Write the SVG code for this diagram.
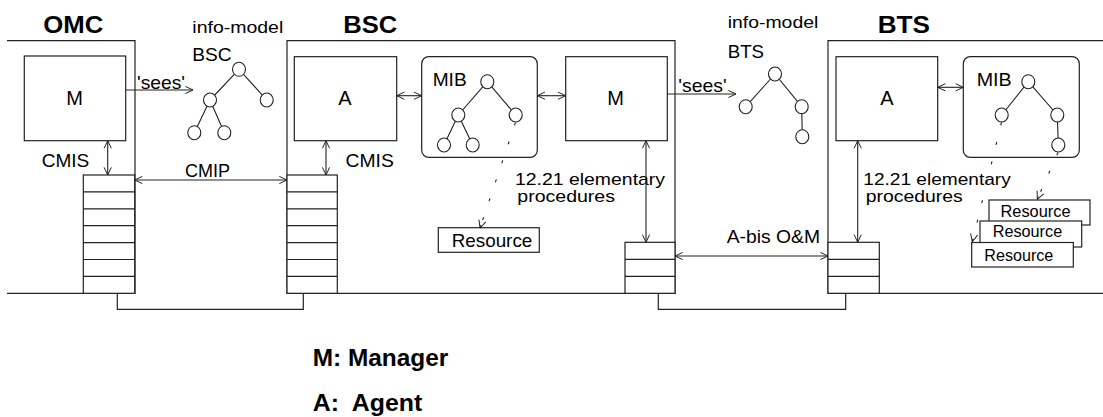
<svg xmlns="http://www.w3.org/2000/svg" width="1103" height="417" viewBox="0 0 1103 417">
<style>
.ln{fill:none;stroke:#222;stroke-width:1.2}
.bx{fill:#fff;stroke:#222;stroke-width:1.2}
.nd{fill:#fff;stroke:#222;stroke-width:1.1}
.ed{stroke:#222;stroke-width:1.1}
.ar{fill:none;stroke:#222;stroke-width:1.1}
.da{fill:none;stroke:#222;stroke-width:1.1;stroke-dasharray:3 17}
text{font-family:"Liberation Sans",Arial,sans-serif;fill:#000}
.t{font-size:18.5px}
.m{font-size:17px}
.big{font-size:20px}
.s{font-size:16px}
.h{font-size:23.5px;font-weight:bold}
.lg{font-size:23px;font-weight:bold;white-space:pre}
</style>
<defs>
<marker id="ah" viewBox="0 0 10 10" refX="9.5" refY="5" markerWidth="9" markerHeight="9" markerUnits="userSpaceOnUse" orient="auto-start-reverse">
<path d="M1,1 L9.5,5 L1,9" fill="none" stroke="#222" stroke-width="1.1"/>
</marker>
</defs>

<g id="omc">
<path class="ln" d="M7,40.7 H135 V293.3 H7"/>
<text class="h" x="43.3" y="33.3" textLength="60" lengthAdjust="spacingAndGlyphs">OMC</text>
</g>
<g id="bsc">
<path class="ln" d="M287,40.7 H675 V293.3 H287 Z"/>
<text class="h" x="343.3" y="33.3" textLength="54" lengthAdjust="spacingAndGlyphs">BSC</text>
</g>
<g id="bts">
<path class="ln" d="M1103,40.7 H828 V293.3 H1103"/>
<text class="h" x="877.7" y="33.3" textLength="52.3" lengthAdjust="spacingAndGlyphs">BTS</text>
</g>

<g id="omc-manager">
<rect class="bx" x="24.3" y="56" width="101.4" height="84.7"/>
<text class="big" x="74.5" y="105" text-anchor="middle">M</text>
</g>
<g id="omc-stack">
<rect class="bx" x="83.3" y="175" width="51.4" height="118.3"/>
<path class="ln" d="M83.3,191.9 H134.7 M83.3,208.8 H134.7 M83.3,225.7 H134.7 M83.3,242.6 H134.7 M83.3,259.5 H134.7 M83.3,276.4 H134.7"/>
</g>

<g id="info-model-bsc">
<text class="m" x="192.3" y="32.5" textLength="91" lengthAdjust="spacingAndGlyphs">info-model</text>
<text class="t" x="192.3" y="60.5" textLength="39.4" lengthAdjust="spacingAndGlyphs">BSC</text>
<path class="ed" d="M239,69.3 L210,100 M239,69.3 L266.7,100 M210,100 L194.3,132.7 M210,100 L224.3,132.7"/>
<ellipse class="nd" cx="239" cy="69.3" rx="6.5" ry="7"/>
<ellipse class="nd" cx="210" cy="100" rx="6.5" ry="7"/>
<ellipse class="nd" cx="266.7" cy="100" rx="6.5" ry="7"/>
<ellipse class="nd" cx="194.3" cy="132.7" rx="6.5" ry="7"/>
<ellipse class="nd" cx="224.3" cy="132.7" rx="6.5" ry="7"/>
</g>

<g id="bsc-agent">
<rect class="bx" x="294.3" y="56.7" width="102.4" height="84"/>
<text class="big" x="345" y="105" text-anchor="middle">A</text>
</g>
<g id="bsc-mib">
<rect class="bx" x="421.7" y="56.7" width="115.6" height="100.6" rx="7"/>
<text class="t" x="432.7" y="86" textLength="34" lengthAdjust="spacingAndGlyphs">MIB</text>
<path class="ed" d="M487.3,81.7 L458.3,115 M487.3,81.7 L515.7,115 M458.3,115 L444,145 M458.3,115 L472.7,145"/>
<ellipse class="nd" cx="487.3" cy="81.7" rx="6.5" ry="7"/>
<ellipse class="nd" cx="458.3" cy="115" rx="6.5" ry="7"/>
<ellipse class="nd" cx="515.7" cy="115" rx="6.5" ry="7"/>
<ellipse class="nd" cx="444" cy="145" rx="6.5" ry="7"/>
<ellipse class="nd" cx="472.7" cy="145" rx="6.5" ry="7"/>
</g>
<g id="bsc-manager">
<rect class="bx" x="565.7" y="56.7" width="101.6" height="84"/>
<text class="big" x="615.5" y="105" text-anchor="middle">M</text>
</g>
<g id="bsc-stack-left">
<rect class="bx" x="287" y="175" width="50.3" height="118.3"/>
<path class="ln" d="M287,191.9 H337.3 M287,208.8 H337.3 M287,225.7 H337.3 M287,242.6 H337.3 M287,259.5 H337.3 M287,276.4 H337.3"/>
</g>
<g id="bsc-stack-right">
<rect class="bx" x="625" y="242.3" width="50" height="51"/>
<path class="ln" d="M625,259.3 H675 M625,276.3 H675"/>
</g>
<g id="bsc-resource">
<rect class="bx" x="438.3" y="227.7" width="101" height="24.6"/>
<text class="t" x="451.7" y="247.3" textLength="80.6" lengthAdjust="spacingAndGlyphs">Resource</text>
</g>
<g id="bsc-procedures">
<text class="m" x="515" y="184.5" textLength="150" lengthAdjust="spacingAndGlyphs">12.21 elementary</text>
<text class="m" x="517.3" y="202" textLength="97.7" lengthAdjust="spacingAndGlyphs">procedures</text>
</g>

<g id="info-model-bts">
<text class="m" x="727.7" y="27.7" textLength="90.6" lengthAdjust="spacingAndGlyphs">info-model</text>
<text class="t" x="727.7" y="58.3" textLength="36.3" lengthAdjust="spacingAndGlyphs">BTS</text>
<path class="ed" d="M775,74 L745.7,106.7 M775,74 L801.7,106.7 M801.7,106.7 L802.3,136.7"/>
<ellipse class="nd" cx="775" cy="74" rx="6.5" ry="7"/>
<ellipse class="nd" cx="745.7" cy="106.7" rx="6.5" ry="7"/>
<ellipse class="nd" cx="801.7" cy="106.7" rx="6.5" ry="7"/>
<ellipse class="nd" cx="802.3" cy="136.7" rx="6.5" ry="7"/>
</g>

<g id="bts-agent">
<rect class="bx" x="836" y="56.7" width="101.7" height="84"/>
<text class="big" x="887" y="105" text-anchor="middle">A</text>
</g>
<g id="bts-mib">
<rect class="bx" x="963.3" y="56.7" width="116" height="100.6" rx="7"/>
<text class="t" x="976.7" y="86" textLength="35" lengthAdjust="spacingAndGlyphs">MIB</text>
<path class="ed" d="M1028.3,81.7 L1001.7,115 M1028.3,81.7 L1057.3,115 M1057.3,115 L1058.3,145"/>
<ellipse class="nd" cx="1028.3" cy="81.7" rx="6.5" ry="7"/>
<ellipse class="nd" cx="1001.7" cy="115" rx="6.5" ry="7"/>
<ellipse class="nd" cx="1057.3" cy="115" rx="6.5" ry="7"/>
<ellipse class="nd" cx="1058.3" cy="145" rx="6.5" ry="7"/>
</g>
<g id="bts-stack">
<rect class="bx" x="828" y="242.3" width="51.3" height="51"/>
<path class="ln" d="M828,259.3 H879.3 M828,276.3 H879.3"/>
</g>
<g id="bts-procedures">
<text class="m" x="863.3" y="185" textLength="147.4" lengthAdjust="spacingAndGlyphs">12.21 elementary</text>
<text class="m" x="865.7" y="202" textLength="97" lengthAdjust="spacingAndGlyphs">procedures</text>
</g>
<g id="bts-resources">
<rect class="bx" x="989" y="200" width="101" height="25"/>
<text class="s" x="1000.5" y="216.7" textLength="70" lengthAdjust="spacingAndGlyphs">Resource</text>
<rect class="bx" x="980" y="221" width="101.7" height="26"/>
<text class="s" x="992.7" y="236.5" textLength="69.5" lengthAdjust="spacingAndGlyphs">Resource</text>
<rect class="bx" x="971.7" y="242.5" width="101.6" height="24.5"/>
<text class="s" x="984.3" y="261" textLength="69" lengthAdjust="spacingAndGlyphs">Resource</text>
</g>

<g id="connectors">
<line class="ar" x1="125.7" y1="90" x2="193" y2="90" marker-end="url(#ah)"/>
<text class="t" x="137" y="88.8" textLength="48" lengthAdjust="spacingAndGlyphs">'sees'</text>
<line class="ar" x1="667.3" y1="94" x2="736" y2="94" marker-end="url(#ah)"/>
<text class="t" x="678.3" y="92.2" textLength="48.4" lengthAdjust="spacingAndGlyphs">'sees'</text>
<line class="ar" x1="396.7" y1="95.7" x2="421.7" y2="95.7" marker-start="url(#ah)" marker-end="url(#ah)"/>
<line class="ar" x1="537.3" y1="95.7" x2="565.7" y2="95.7" marker-start="url(#ah)" marker-end="url(#ah)"/>
<line class="ar" x1="937.7" y1="87.3" x2="963.3" y2="87.3" marker-start="url(#ah)" marker-end="url(#ah)"/>
<line class="ar" x1="107.7" y1="140.7" x2="107.7" y2="175" marker-start="url(#ah)" marker-end="url(#ah)"/>
<text class="t" x="41.7" y="166.7" textLength="47.6" lengthAdjust="spacingAndGlyphs">CMIS</text>
<line class="ar" x1="326" y1="140.7" x2="326" y2="175" marker-start="url(#ah)" marker-end="url(#ah)"/>
<text class="t" x="345.5" y="166.7" textLength="48.3" lengthAdjust="spacingAndGlyphs">CMIS</text>
<line class="ar" x1="134.7" y1="180" x2="287" y2="180" marker-start="url(#ah)" marker-end="url(#ah)"/>
<text class="t" x="185" y="177.3" textLength="45" lengthAdjust="spacingAndGlyphs">CMIP</text>
<line class="ar" x1="646" y1="140.7" x2="646" y2="242.3" marker-start="url(#ah)" marker-end="url(#ah)"/>
<line class="ar" x1="857.7" y1="140.7" x2="857.7" y2="242.3" marker-start="url(#ah)" marker-end="url(#ah)"/>
<line class="ar" x1="675" y1="256" x2="828" y2="256" marker-start="url(#ah)" marker-end="url(#ah)"/>
<text class="t" x="726.7" y="243.3" textLength="93.3" lengthAdjust="spacingAndGlyphs">A-bis O&amp;M</text>
<line class="da" x1="515.5" y1="122.5" x2="480" y2="228"/>
<line class="ar" x1="481" y1="225" x2="480" y2="228" stroke="none" marker-end="url(#ah)"/>
<line class="da" x1="1001.5" y1="122.5" x2="972.3" y2="241.7"/>
<line class="ar" x1="973" y1="238.8" x2="972.3" y2="241.7" stroke="none" marker-end="url(#ah)"/>
<line class="da" x1="1058" y1="152.5" x2="1037.3" y2="199.3"/>
<line class="ar" x1="1038.5" y1="196.6" x2="1037.3" y2="199.3" stroke="none" marker-end="url(#ah)"/>
<path class="ln" d="M117.3,293.3 V309.3 H303.3 V293.3"/>
<path class="ln" d="M658.3,293.3 V309.3 H845.7 V293.3"/>
</g>

<g id="legend">
<text class="lg" x="312.7" y="366" textLength="135.6" lengthAdjust="spacingAndGlyphs">M: Manager</text>
<text class="lg" x="312.7" y="411" textLength="109.6" lengthAdjust="spacingAndGlyphs">A:  Agent</text>
</g>
</svg>
